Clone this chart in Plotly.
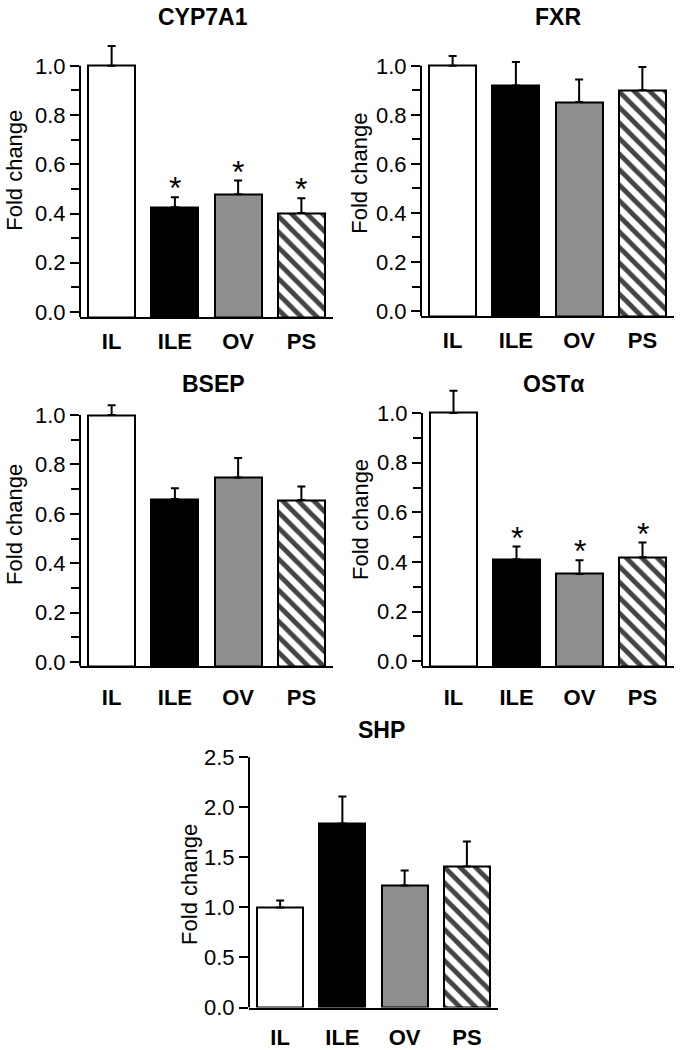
import plotly.graph_objects as go

W, H = 682, 1050

categories = ["IL", "ILE", "OV", "PS"]

cyp7a1_values = [1.0, 0.426, 0.478, 0.402]
cyp7a1_errors = [0.08, 0.04, 0.056, 0.06]
cyp7a1_sig = [False, True, True, True]

fxr_values = [1.0, 0.92, 0.852, 0.90]
fxr_errors = [0.04, 0.096, 0.092, 0.095]
fxr_sig = [False, False, False, False]

bsep_values = [1.0, 0.66, 0.747, 0.656]
bsep_errors = [0.04, 0.044, 0.079, 0.055]
bsep_sig = [False, False, False, False]

osta_values = [1.0, 0.411, 0.352, 0.419]
osta_errors = [0.09, 0.051, 0.055, 0.059]
osta_sig = [False, True, True, True]

shp_values = [1.0, 1.84, 1.22, 1.41]
shp_errors = [0.07, 0.27, 0.15, 0.25]
shp_sig = [False, False, False, False]

fill_colors = ["white", "black", "#8e8e8e", "white"]
patterns = ["", "", "", "\\"]

FONT = "Arial, Liberation Sans, sans-serif"

# layout geometry (pixels): x0, x1, zero_px, px_per_unit, axis_bottom_px, top_px
panels = [
    dict(name="CYP7A1", vals=cyp7a1_values, errs=cyp7a1_errors, sig=cyp7a1_sig,
         x0=80, x1=333, zero=314, ppu=251, bottom=319, top=30, standoff=4,
         major=[0, 0.2, 0.4, 0.6, 0.8, 1.0], minor=[0.1, 0.3, 0.5, 0.7, 0.9],
         title_xy=(203, 13), ylab_xy=(15, 170)),
    dict(name="FXR", vals=fxr_values, errs=fxr_errors, sig=fxr_sig,
         x0=421, x1=674, zero=313, ppu=250, bottom=318, top=30, standoff=4,
         major=[0, 0.2, 0.4, 0.6, 0.8, 1.0], minor=[0.1, 0.3, 0.5, 0.7, 0.9],
         title_xy=(558, 13), ylab_xy=(360, 173)),
    dict(name="BSEP", vals=bsep_values, errs=bsep_errors, sig=bsep_sig,
         x0=80, x1=333, zero=671, ppu=252, bottom=675, top=395, standoff=10,
         major=[0, 0.2, 0.4, 0.6, 0.8, 1.0], minor=[0.1, 0.3, 0.5, 0.7, 0.9],
         title_xy=(213, 387), ylab_xy=(15, 531)),
    dict(name="OSTα", vals=osta_values, errs=osta_errors, sig=osta_sig,
         x0=422, x1=674, zero=670, ppu=253, bottom=675, top=388, standoff=10,
         major=[0, 0.2, 0.4, 0.6, 0.8, 1.0], minor=[0.1, 0.3, 0.5, 0.7, 0.9],
         title_xy=(553, 387), ylab_xy=(361, 526)),
    dict(name="SHP", vals=shp_values, errs=shp_errors, sig=shp_sig,
         x0=249, x1=498, zero=1023, ppu=102, bottom=1023, top=760, standoff=9,
         major=[0, 0.5, 1.0, 1.5, 2.0, 2.5], minor=[],
         title_xy=(382, 740), ylab_xy=(190, 897)),
]

fig = go.Figure()
annotations = []
shapes = []

for i, p in enumerate(panels):
    n = "" if i == 0 else str(i + 1)
    xa, ya = "x" + n, "y" + n
    ymin = -(p["bottom"] - p["zero"]) / p["ppu"]
    ymax = (p["zero"] - p["top"]) / p["ppu"]
    heights = [v - ymin for v in p["vals"]]
    fig.add_trace(go.Bar(
        x=categories, y=heights, base=ymin, xaxis=xa, yaxis=ya, width=0.74,
        marker=dict(color=fill_colors, line=dict(color="black", width=2),
                    pattern=dict(shape=patterns, fgcolor="black", fgopacity=1,
                                 fillmode="overlay", size=11, solidity=0.45)),
        error_y=dict(type="data", array=p["errs"], arrayminus=[0] * 4, symmetric=False,
                     width=4, thickness=2, color="black"),
        showlegend=False, hoverinfo="skip",
    ))
    lay_x = "xaxis" + n
    lay_y = "yaxis" + n
    fig.update_layout(**{
        lay_x: dict(domain=[p["x0"] / W, p["x1"] / W], anchor=ya, range=[-0.5, 3.5],
                    showline=True, linecolor="black", linewidth=2, ticks="",
                    showgrid=False, zeroline=False, ticklabelstandoff=p["standoff"],
                    tickfont=dict(family=FONT, size=22, color="black", weight="bold")),
        lay_y: dict(domain=[1 - p["bottom"] / H, 1 - p["top"] / H], anchor=xa,
                    range=[ymin, ymax], showline=False, showgrid=False, zeroline=False,
                    tickvals=p["major"], ticktext=[f"{t:.1f}" for t in p["major"]],
                    ticks="outside", ticklen=9, tickwidth=2, tickcolor="black",
                    minor=dict(tickvals=p["minor"], ticks="outside", ticklen=8,
                               tickwidth=2, tickcolor="black"),
                    tickfont=dict(family=FONT, size=22, color="black")),
    })
    shapes.append(dict(type="line", xref=xa + " domain", yref=ya, x0=0, x1=0,
                       y0=ymin, y1=p["major"][-1], line=dict(color="black", width=2)))
    tx, ty = p["title_xy"]
    annotations.append(dict(text=p["name"], xref="paper", yref="paper", x=tx / W, y=1 - ty / H,
                            showarrow=False, xanchor="center", yanchor="middle",
                            font=dict(family=FONT, size=23, color="black", weight="bold")))
    lx, ly = p["ylab_xy"]
    annotations.append(dict(text="Fold change", xref="paper", yref="paper", x=lx / W, y=1 - ly / H,
                            showarrow=False, xanchor="center", yanchor="middle", textangle=-90,
                            font=dict(family=FONT, size=22, color="black")))
    for c, v, e, s in zip(categories, p["vals"], p["errs"], p["sig"]):
        if s:
            annotations.append(dict(text="*", xref=xa, yref=ya, x=c, y=v + e, showarrow=False,
                                    xanchor="center", yanchor="bottom", yshift=-11,
                                    font=dict(family=FONT, size=32, color="black")))

fig.update_layout(width=W, height=H, margin=dict(l=0, r=0, t=0, b=0),
                  paper_bgcolor="white", plot_bgcolor="white",
                  annotations=annotations, shapes=shapes, bargap=0)

fig.write_html("out.html", config={"displayModeBar": False},
               post_script="document.body.style.margin='0';document.body.style.padding='0';")
